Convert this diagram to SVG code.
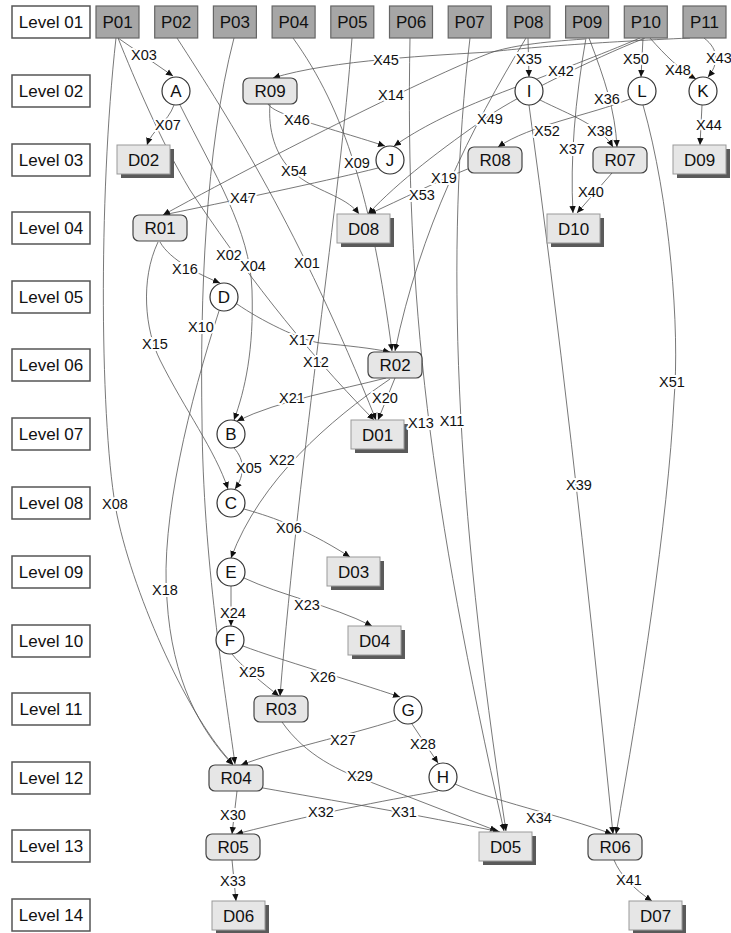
<svg xmlns="http://www.w3.org/2000/svg" width="731" height="933" viewBox="0 0 731 933">
<defs>
<marker id="ah" markerWidth="8" markerHeight="8" refX="7" refY="4" orient="auto" markerUnits="userSpaceOnUse"><path d="M0,0.8 L7,4 L0,7.2 z" fill="#111"/></marker>
<style>
.lvl rect{fill:#fff;stroke:#555;stroke-width:1.5}
.lvl text,.p text,.n text{font-family:"Liberation Sans",Arial,sans-serif;font-size:17px;fill:#111;text-anchor:middle}
.p rect{fill:#a6a6a6;stroke:#666;stroke-width:1.2}
.r rect{fill:#e6e6e6;stroke:#444;stroke-width:1.2}
.d rect.f{fill:#e6e6e6;stroke:#999;stroke-width:1}
.d rect.s{fill:#5a5a5a}
.c circle{fill:#fff;stroke:#333;stroke-width:1.2}
#edges path{fill:none;stroke:#555;stroke-width:0.8;marker-end:url(#ah)}
#labels text{font-family:"Liberation Sans",Arial,sans-serif;font-size:14.5px;fill:#111;text-anchor:middle;stroke:#fff;stroke-width:4;paint-order:stroke;stroke-linejoin:round}
</style>
</defs>
<rect width="731" height="933" fill="#fff"/>

<g id="levels">
<g id="lvl01" class="lvl"><rect x="12" y="6" width="78" height="32"/><text x="51" y="28">Level 01</text></g>
<g id="lvl02" class="lvl"><rect x="12" y="75" width="78" height="32"/><text x="51" y="97">Level 02</text></g>
<g id="lvl03" class="lvl"><rect x="12" y="144" width="78" height="32"/><text x="51" y="166">Level 03</text></g>
<g id="lvl04" class="lvl"><rect x="12" y="212" width="78" height="32"/><text x="51" y="234">Level 04</text></g>
<g id="lvl05" class="lvl"><rect x="12" y="281" width="78" height="32"/><text x="51" y="303">Level 05</text></g>
<g id="lvl06" class="lvl"><rect x="12" y="349" width="78" height="32"/><text x="51" y="371">Level 06</text></g>
<g id="lvl07" class="lvl"><rect x="12" y="418" width="78" height="32"/><text x="51" y="440">Level 07</text></g>
<g id="lvl08" class="lvl"><rect x="12" y="487" width="78" height="32"/><text x="51" y="509">Level 08</text></g>
<g id="lvl09" class="lvl"><rect x="12" y="556" width="78" height="32"/><text x="51" y="578">Level 09</text></g>
<g id="lvl10" class="lvl"><rect x="12" y="625" width="78" height="32"/><text x="51" y="647">Level 10</text></g>
<g id="lvl11" class="lvl"><rect x="12" y="693" width="78" height="32"/><text x="51" y="715">Level 11</text></g>
<g id="lvl12" class="lvl"><rect x="12" y="762" width="78" height="32"/><text x="51" y="784">Level 12</text></g>
<g id="lvl13" class="lvl"><rect x="12" y="830" width="78" height="32"/><text x="51" y="852">Level 13</text></g>
<g id="lvl14" class="lvl"><rect x="12" y="899" width="78" height="32"/><text x="51" y="921">Level 14</text></g>
</g>

<g id="edges">
<path id="X03" d="M118,38 L173,76"/>
<path id="X07" d="M174,105 C168,122 152,130 147,145"/>
<path id="X08" d="M116,38 C98,200 100,430 117,515 C135,600 190,720 233,764"/>
<path id="X02" d="M118,38 C135,80 160,140 190,190 C240,265 300,345 374,420"/>
<path id="X01" d="M177,38 C230,120 300,230 376,420"/>
<path id="X09" d="M293,38 C345,110 372,200 392,351"/>
<path id="X10" d="M234,38 C205,150 200,300 202,420 C203,560 225,690 235,764"/>
<path id="X12" d="M352,38 C340,200 300,450 280,696"/>
<path id="X13" d="M410,38 C405,300 430,500 504,831"/>
<path id="X11" d="M470,38 C445,250 455,500 506,831"/>
<path id="X35" d="M528,38 L529,77"/>
<path id="X19" d="M526,38 C470,130 420,230 395,351"/>
<path id="X37" d="M586,38 C575,100 570,160 573,213"/>
<path id="X36" d="M589,38 C605,80 615,110 617,147"/>
<path id="X40" d="M612,173 L577,213"/>
<path id="X38" d="M540,100 C570,115 600,125 613,147"/>
<path id="X39" d="M529,105 Q572,420 613,834"/>
<path id="X51" d="M643,105 C670,200 680,330 674,400 C668,520 640,700 616,834"/>
<path id="X52" d="M630,99 C590,115 530,125 498,147"/>
<path id="X50" d="M643,38 L641,77"/>
<path id="X48" d="M650,38 C665,55 680,70 696,79"/>
<path id="X43" d="M704,38 C720,50 718,65 708,77"/>
<path id="X44" d="M702,105 L700,145"/>
<path id="X45" d="M690,38 C600,42 520,48 490,52 C440,55 330,60 273,78"/>
<path id="X14" d="M585,39 C540,42 510,46 490,53 C440,72 300,140 163,215"/>
<path id="X42" d="M640,38 C600,55 560,70 490,97 C450,113 420,128 394,146"/>
<path id="X49" d="M645,38 C590,60 520,95 490,115 C440,150 400,180 368,214"/>
<path id="X46" d="M268,104 C275,115 320,125 385,146"/>
<path id="X54" d="M270,104 C268,130 275,155 293,172 C315,192 345,195 359,214"/>
<path id="X47" d="M378,168 C330,180 260,195 163,215"/>
<path id="X53" d="M470,168 C440,180 400,200 369,214"/>
<path id="X16" d="M160,242 C170,260 200,275 220,283"/>
<path id="X15" d="M158,242 C140,280 145,330 160,360 C185,410 215,450 228,489"/>
<path id="X04" d="M180,105 C215,175 250,230 252,290 C254,350 245,390 234,420"/>
<path id="X17" d="M237,304 C260,320 300,340 320,343 C350,346 370,348 390,352"/>
<path id="X18" d="M219,311 C190,400 160,520 167,600 C172,680 200,730 233,765"/>
<path id="X21" d="M386,378 C340,390 280,400 237,421"/>
<path id="X20" d="M395,378 L378,420"/>
<path id="X22" d="M390,379 C330,420 260,480 231,558"/>
<path id="X05" d="M234,448 C245,460 245,475 235,489"/>
<path id="X06" d="M244,509 C265,515 300,525 350,557"/>
<path id="X23" d="M244,578 C280,595 330,605 372,626"/>
<path id="X24" d="M231,586 L231,626"/>
<path id="X25" d="M232,654 C240,665 265,685 279,696"/>
<path id="X26" d="M243,646 C280,660 350,680 400,697"/>
<path id="X27" d="M396,720 C350,735 280,750 241,765"/>
<path id="X28" d="M412,724 L438,763"/>
<path id="X29" d="M282,722 C305,755 340,772 373,783 L497,831"/>
<path id="X31" d="M263,788 C330,800 420,815 500,832"/>
<path id="X30" d="M237,791 L232,834"/>
<path id="X32" d="M438,791 C400,798 330,810 236,834"/>
<path id="X34" d="M455,784 C490,800 560,815 612,834"/>
<path id="X33" d="M232,860 L236,901"/>
<path id="X41" d="M614,860 C620,875 635,890 652,901"/>
</g>

<g id="nodes">
<g id="P01" class="p"><rect x="96" y="6" width="43" height="32"/><text x="117.5" y="28">P01</text></g>
<g id="P02" class="p"><rect x="154.7" y="6" width="43" height="32"/><text x="176.2" y="28">P02</text></g>
<g id="P03" class="p"><rect x="213.4" y="6" width="43" height="32"/><text x="234.9" y="28">P03</text></g>
<g id="P04" class="p"><rect x="272.1" y="6" width="43" height="32"/><text x="293.6" y="28">P04</text></g>
<g id="P05" class="p"><rect x="330.8" y="6" width="43" height="32"/><text x="352.3" y="28">P05</text></g>
<g id="P06" class="p"><rect x="389.5" y="6" width="43" height="32"/><text x="411" y="28">P06</text></g>
<g id="P07" class="p"><rect x="448.2" y="6" width="43" height="32"/><text x="469.7" y="28">P07</text></g>
<g id="P08" class="p"><rect x="506.9" y="6" width="43" height="32"/><text x="528.4" y="28">P08</text></g>
<g id="P09" class="p"><rect x="565.6" y="6" width="43" height="32"/><text x="587.1" y="28">P09</text></g>
<g id="P10" class="p"><rect x="624.3" y="6" width="43" height="32"/><text x="645.8" y="28">P10</text></g>
<g id="P11" class="p"><rect x="683" y="6" width="43" height="32"/><text x="704.5" y="28">P11</text></g>

<g id="A" class="n c"><circle cx="176" cy="91" r="14"/><text x="176" y="97">A</text></g>
<g id="I" class="n c"><circle cx="529" cy="91" r="14"/><text x="529" y="97">I</text></g>
<g id="L" class="n c"><circle cx="642" cy="91" r="14"/><text x="642" y="97">L</text></g>
<g id="K" class="n c"><circle cx="703" cy="91" r="14"/><text x="703" y="97">K</text></g>
<g id="J" class="n c"><circle cx="390" cy="160" r="14"/><text x="390" y="166">J</text></g>
<g id="D" class="n c"><circle cx="224" cy="297" r="14"/><text x="224" y="303">D</text></g>
<g id="B" class="n c"><circle cx="231" cy="434" r="14"/><text x="231" y="440">B</text></g>
<g id="C" class="n c"><circle cx="231" cy="503" r="14"/><text x="231" y="509">C</text></g>
<g id="E" class="n c"><circle cx="231" cy="572" r="14"/><text x="231" y="578">E</text></g>
<g id="F" class="n c"><circle cx="230" cy="640" r="14"/><text x="230" y="646">F</text></g>
<g id="G" class="n c"><circle cx="408" cy="710" r="14"/><text x="408" y="716">G</text></g>
<g id="H" class="n c"><circle cx="443" cy="777" r="14"/><text x="443" y="783">H</text></g>

<g id="R09" class="n r"><rect x="243" y="78" width="54" height="26" rx="6"/><text x="270" y="97">R09</text></g>
<g id="R08" class="n r"><rect x="468" y="147" width="54" height="26" rx="6"/><text x="495" y="166">R08</text></g>
<g id="R07" class="n r"><rect x="593" y="147" width="54" height="26" rx="6"/><text x="620" y="166">R07</text></g>
<g id="R01" class="n r"><rect x="133" y="215" width="54" height="26" rx="6"/><text x="160" y="234">R01</text></g>
<g id="R02" class="n r"><rect x="368" y="352" width="54" height="26" rx="6"/><text x="395" y="371">R02</text></g>
<g id="R03" class="n r"><rect x="254" y="696" width="54" height="26" rx="6"/><text x="281" y="715">R03</text></g>
<g id="R04" class="n r"><rect x="209" y="765" width="54" height="26" rx="6"/><text x="236" y="784">R04</text></g>
<g id="R05" class="n r"><rect x="206" y="834" width="54" height="26" rx="6"/><text x="233" y="853">R05</text></g>
<g id="R06" class="n r"><rect x="588" y="834" width="54" height="26" rx="6"/><text x="615" y="853">R06</text></g>

<g id="D02" class="n d"><rect class="s" x="121" y="149" width="53" height="29"/><rect class="f" x="117" y="145" width="53" height="29"/><text x="143.5" y="166">D02</text></g>
<g id="D08" class="n d"><rect class="s" x="341" y="218" width="53" height="29"/><rect class="f" x="337" y="214" width="53" height="29"/><text x="363.5" y="235">D08</text></g>
<g id="D10" class="n d"><rect class="s" x="551" y="218" width="53" height="29"/><rect class="f" x="547" y="214" width="53" height="29"/><text x="573.5" y="235">D10</text></g>
<g id="D09" class="n d"><rect class="s" x="677" y="149" width="53" height="29"/><rect class="f" x="673" y="145" width="53" height="29"/><text x="699.5" y="166">D09</text></g>
<g id="D01" class="n d"><rect class="s" x="355" y="424" width="53" height="29"/><rect class="f" x="351" y="420" width="53" height="29"/><text x="377.5" y="441">D01</text></g>
<g id="D03" class="n d"><rect class="s" x="331" y="561" width="53" height="29"/><rect class="f" x="327" y="557" width="53" height="29"/><text x="353.5" y="578">D03</text></g>
<g id="D04" class="n d"><rect class="s" x="352" y="630" width="53" height="29"/><rect class="f" x="348" y="626" width="53" height="29"/><text x="374.5" y="647">D04</text></g>
<g id="D05" class="n d"><rect class="s" x="483" y="836" width="53" height="29"/><rect class="f" x="479" y="832" width="53" height="29"/><text x="505.5" y="853">D05</text></g>
<g id="D06" class="n d"><rect class="s" x="216" y="905" width="53" height="29"/><rect class="f" x="212" y="901" width="53" height="29"/><text x="238.5" y="922">D06</text></g>
<g id="D07" class="n d"><rect class="s" x="633" y="905" width="53" height="29"/><rect class="f" x="629" y="901" width="53" height="29"/><text x="655.5" y="922">D07</text></g>
</g>

<g id="labels">
<text x="144" y="60">X03</text>
<text x="168" y="130">X07</text>
<text x="115" y="509">X08</text>
<text x="229" y="260">X02</text>
<text x="307" y="268">X01</text>
<text x="357" y="168">X09</text>
<text x="201" y="332">X10</text>
<text x="316" y="367">X12</text>
<text x="421" y="428">X13</text>
<text x="452" y="426">X11</text>
<text x="529" y="64">X35</text>
<text x="444" y="183">X19</text>
<text x="572" y="154">X37</text>
<text x="607" y="104">X36</text>
<text x="591" y="197">X40</text>
<text x="600" y="136">X38</text>
<text x="579" y="490">X39</text>
<text x="672" y="387">X51</text>
<text x="547" y="136">X52</text>
<text x="636" y="64">X50</text>
<text x="678" y="75">X48</text>
<text x="719" y="63">X43</text>
<text x="709" y="130">X44</text>
<text x="386" y="65">X45</text>
<text x="391" y="100">X14</text>
<text x="561" y="76">X42</text>
<text x="490" y="124">X49</text>
<text x="297" y="125">X46</text>
<text x="294" y="176">X54</text>
<text x="243" y="203">X47</text>
<text x="422" y="200">X53</text>
<text x="185" y="274">X16</text>
<text x="155" y="349">X15</text>
<text x="253" y="271">X04</text>
<text x="302" y="345">X17</text>
<text x="165" y="595">X18</text>
<text x="292" y="403">X21</text>
<text x="385" y="403">X20</text>
<text x="282" y="465">X22</text>
<text x="249" y="473">X05</text>
<text x="289" y="533">X06</text>
<text x="307" y="610">X23</text>
<text x="233" y="618">X24</text>
<text x="252" y="677">X25</text>
<text x="323" y="682">X26</text>
<text x="343" y="745">X27</text>
<text x="423" y="749">X28</text>
<text x="360" y="781">X29</text>
<text x="404" y="817">X31</text>
<text x="233" y="820">X30</text>
<text x="321" y="817">X32</text>
<text x="539" y="823">X34</text>
<text x="233" y="886">X33</text>
<text x="629" y="885">X41</text>
</g>
</svg>
